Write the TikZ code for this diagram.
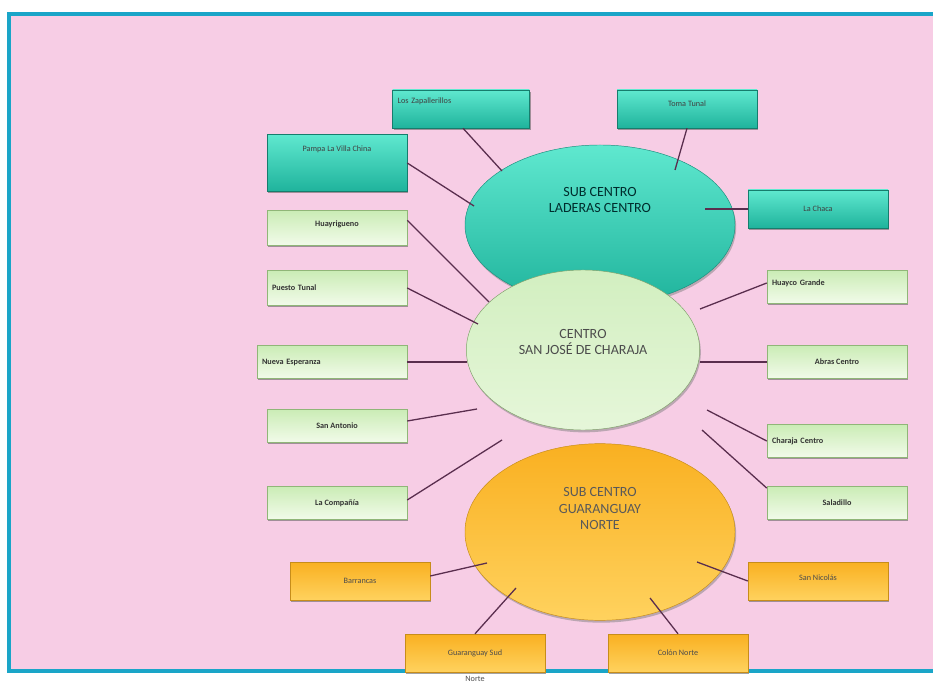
\documentclass[tikz,border=0pt]{standalone}
\usepackage{fontspec}
\setmainfont{Carlito}
\usetikzlibrary{positioning,shadows,shapes.geometric}
\definecolor{pinkbg}{HTML}{F7CDE5}
\definecolor{frameblue}{HTML}{1AA5C8}
\definecolor{tealtop}{HTML}{5FE8CF}
\definecolor{tealbot}{HTML}{1FB39C}
\definecolor{greentop}{HTML}{F2FBEA}
\definecolor{greenbot}{HTML}{B4E496}
\definecolor{orangetop}{HTML}{FFD25E}
\definecolor{orangebot}{HTML}{F9B021}
\definecolor{linkline}{HTML}{5A2E4E}
\tikzset{
    %Define style for boxes
    tealrect/.style={
           rectangle,
           draw=tealbot!70!black, thin,
           minimum width=4.2cm,
           minimum height=1.14cm,
           font=\scriptsize,
           text=black!75,
           top color=tealtop,
           bottom color=tealbot,
           drop shadow={shadow xshift=1pt,shadow yshift=-1.5pt,fill=black!60,opacity=.6}
           },
    greenrect/.style={
           rectangle,
           draw=greenbot!80!black, thin,
           minimum width=4.2cm,
           minimum height=1.05cm,
           font=\scriptsize\bfseries,
           text=black!80,
           top color=greenbot!70,
           bottom color=greentop,
           drop shadow={shadow xshift=1pt,shadow yshift=-1.5pt,fill=black!60,opacity=.6}
           },
    orangerect/.style={
           rectangle,
           draw=orangebot!80!black, thin,
           minimum width=4.2cm,
           minimum height=1.14cm,
           font=\scriptsize,
           text=black!70,
           top color=orangebot,
           bottom color=orangetop,
           drop shadow={shadow xshift=1pt,shadow yshift=-1.5pt,fill=black!60,opacity=.6}
           },
    %Define style for the centres
    centre/.style={
           ellipse,
           draw, thin,
           font=\large,
           align=center,
           drop shadow={shadow xshift=1pt,shadow yshift=-2pt,fill=black!50,opacity=.5}
           },
    % Define link style
    link/.style={
           draw=linkline,
           line width=1.1pt}
}
\begin{document}
\begin{tikzpicture}[x=0.03cm,y=-0.03cm]
\useasboundingbox (0,0) rectangle (933,685);

 %background
\fill[pinkbg] (7,12) rectangle (933,672);
\draw[frameblue, line width=4pt] (933,14) -- (9,14) -- (9,671) -- (933,671);

 %centres
\node[centre, draw=tealbot!80!black, top color=tealtop, bottom color=tealbot, text=black!65!teal,
      minimum width=8.1cm, minimum height=4.8cm, text depth=1.5cm] (laderas) at (600,225)
      {SUB CENTRO\\LADERAS CENTRO};
\node[centre, draw=orangebot!80!black, top color=orangebot, bottom color=orangetop, text=black!65,
      minimum width=8.1cm, minimum height=5.3cm, text depth=1.4cm] (guaranguay) at (600,532)
      {SUB CENTRO\\GUARANGUAY\\NORTE};
\node[centre, draw=greenbot!70!black, top color=greenbot!60, bottom color=greentop!80!greenbot, text=black!70,
      minimum width=7cm, minimum height=4.8cm, text depth=.5cm] (charaja) at (583,350)
      {CENTRO\\SAN JOSÉ DE CHARAJA};

 %teal boxes
\node[tealrect, minimum width=4.1cm, text width=3.8cm, align=left, text depth=.5cm] (zap) at (461,109) {Los Zapallerillos};
\node[tealrect, minimum height=1.7cm, text depth=.85cm] (pampa) at (337,163) {Pampa La Villa China};
\node[tealrect, text depth=.35cm] (toma) at (687,109) {Toma Tunal};
\node[tealrect] (chaca) at (818,209) {La Chaca};

 %green boxes
\node[greenrect, text depth=.25cm] (huay) at (337,228) {Huayrigueno};
\node[greenrect, text width=3.9cm, align=left] (puesto) at (337,288) {Puesto Tunal};
\node[greenrect, minimum width=4.5cm, minimum height=1cm, text width=4.2cm, align=left] (nueva) at (332,362) {Nueva Esperanza};
\node[greenrect, minimum height=1cm] (antonio) at (337,426) {San Antonio};
\node[greenrect, minimum height=1cm] (compania) at (337,503) {La Compañía};
\node[greenrect, minimum height=1cm, text width=3.9cm, align=left, text depth=.25cm] (huayco) at (837,287) {Huayco Grande};
\node[greenrect, minimum height=1cm] (abras) at (837,362) {Abras Centro};
\node[greenrect, minimum height=1cm, text width=3.9cm, align=left] (ccentro) at (837,441) {Charaja Centro};
\node[greenrect, minimum height=1cm] (saladillo) at (837,503) {Saladillo};

 %orange boxes
\node[orangerect] (barrancas) at (360,581) {Barrancas};
\node[orangerect] (sud) at (475,653) {Guaranguay Sud};
\node[font=\scriptsize, text=black!70] (norte) at (475,679) {Norte};
\node[orangerect] (colon) at (678,653) {Colón Norte};
\node[orangerect, text depth=.2cm] (nicolas) at (818,581) {San Nicolás};

 %free ends
\coordinate (e1) at (502,171);
\coordinate (e2) at (474,206);
\coordinate (e3) at (675,170);
\coordinate (e4) at (705,209);
\coordinate (e5) at (489,302);
\coordinate (e6) at (478,324);
\coordinate (e7) at (467,362);
\coordinate (e8) at (477,409);
\coordinate (e9) at (502,440);
\coordinate (e10) at (700,309);
\coordinate (e11) at (700,362);
\coordinate (e12) at (707,410);
\coordinate (e13) at (702,430);
\coordinate (e14) at (487,563);
\coordinate (e15) at (516,588);
\coordinate (e16) at (650,598);
\coordinate (e17) at (697,562);

 %links
\path[link]
    (zap.south) ++(2,0) edge (e1)
    (pampa.east) edge (e2)
    (toma.south) edge (e3)
    (chaca.west) edge (e4)
    (huay.north east) ++(0,10) edge (e5)
    (puesto.east) edge (e6)
    (nueva.east) edge (e7)
    (antonio.east) ++(0,-5) edge (e8)
    (compania.east) ++(0,-3) edge (e9)
    (huayco.west) ++(0,-4) edge (e10)
    (abras.west) edge (e11)
    (ccentro.west) edge (e12)
    (saladillo.north west) ++(0,2) edge (e13)
    (barrancas.east) ++(0,-5) edge (e14)
    (sud.north) edge (e15)
    (colon.north) edge (e16)
    (nicolas.west) edge (e17);

\end{tikzpicture}
\end{document}
